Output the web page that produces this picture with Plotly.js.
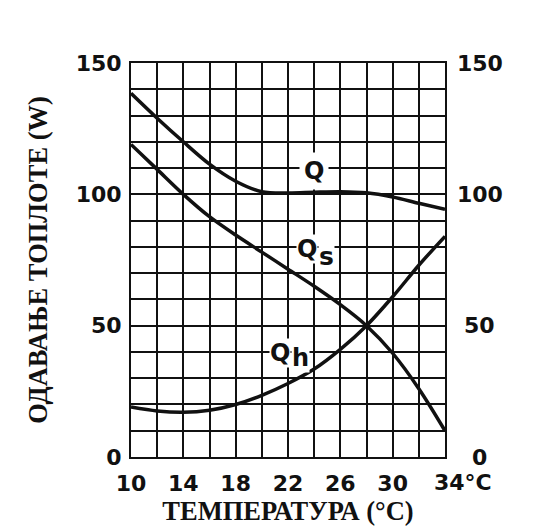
<!DOCTYPE html>
<html>
<head>
<meta charset="utf-8">
<script src="https://cdn.plot.ly/plotly-3.0.1.min.js"></script>
<style>html,body{margin:0;padding:0;background:#fff;}#chart{width:537px;height:528px;}</style>
</head>
<body>
<div id="chart"></div>
<script>
// Data
const temps = [10, 12, 14, 16, 18, 20, 22, 24, 26, 28, 30, 32, 34];
const qTotal = [138.5, 129, 120, 111.5, 105, 101, 100.5, 100.8, 101, 100.6, 99, 96.6, 94.3];
const qSensible = [119, 109.5, 100, 91.5, 84.5, 78, 71.5, 65, 58, 50, 39.5, 26, 10];
const qLatent = [19, 17.5, 17, 17.8, 20, 23.5, 28, 33.5, 41, 50, 61, 73, 84];

const xTickVals = [10, 14, 18, 22, 26, 30, 34];
const xTickLabels = ['10', '14', '18', '22', '26', '30', '34°C'];
const yTickVals = [0, 50, 100, 150];
const yTickLabels = ['0', '50', '100', '150'];

const xTitle = 'ТЕМПЕРАТУРА (°C)';
const yTitle = 'ОДАВАЊЕ ТОПЛОТЕ (W)';

const ink = '#111';
const tickFont = {family: 'DejaVu Sans', size: 22, color: ink, weight: 'bold'};
const titleFont = {family: 'Liberation Serif', size: 26.5, color: ink, weight: 'bold'};
const labelFont = {family: 'DejaVu Sans', size: 24, color: ink, weight: 'bold'};

const lineStyle = {color: ink, width: 3.5, shape: 'spline', smoothing: 0.9};
const traces = [
  {x: temps, y: qTotal, name: 'Q', mode: 'lines', line: lineStyle, hoverinfo: 'x+y+name'},
  {x: temps, y: qSensible, name: 'Qs', mode: 'lines', line: lineStyle, hoverinfo: 'x+y+name'},
  {x: temps, y: qLatent, name: 'Qh', mode: 'lines', line: lineStyle, hoverinfo: 'x+y+name'}
];

const annotations = [];
// right-hand axis labels (same scale as the left axis)
yTickVals.forEach((v, i) => {
  annotations.push({xref: 'paper', yref: 'y', x: 1.111, y: v, text: yTickLabels[i],
    showarrow: false, xanchor: 'center', yanchor: 'middle', font: tickFont});
});
// last x label with unit
annotations.push({xref: 'x', yref: 'paper', x: xTickVals[6], y: 0, yshift: -25,
  text: xTickLabels[6], showarrow: false, xanchor: 'left', xshift: -13, yanchor: 'middle', font: tickFont});
// curve labels
const bg = '#ffffff';
annotations.push({x: 24.0, y: 109, text: 'Q', showarrow: false, font: labelFont, bgcolor: bg, borderpad: 4});
annotations.push({x: 24.3, y: 79.2, text: 'Q', showarrow: false, xanchor: 'right', font: labelFont, bgcolor: bg, borderpad: 0});
annotations.push({x: 24.3, y: 79.2, text: 's', showarrow: false, xanchor: 'left', yshift: -8,
  font: {family: 'DejaVu Sans', size: 25, color: ink, weight: 'bold'}, bgcolor: bg, borderpad: 0});
annotations.push({x: 22.23, y: 39.7, text: 'Q', showarrow: false, xanchor: 'right', font: labelFont, bgcolor: bg, borderpad: 0});
annotations.push({x: 22.23, y: 39.7, text: 'h', showarrow: false, xanchor: 'left', yshift: -5, font: labelFont, bgcolor: bg, borderpad: 0});

const layout = {
  width: 537, height: 528,
  margin: {l: 131, r: 92, t: 63, b: 71},
  paper_bgcolor: '#fff', plot_bgcolor: '#fff',
  showlegend: false,
  xaxis: {
    range: [10, 34], tickmode: 'array', tickvals: xTickVals.slice(0, 6), ticktext: xTickLabels.slice(0, 6),
    showgrid: true, gridcolor: ink, gridwidth: 2,
    minor: {tickmode: 'linear', tick0: 10, dtick: 2, showgrid: true, gridcolor: ink, gridwidth: 2, ticks: ''},
    showline: true, mirror: true, linecolor: ink, linewidth: 2,
    ticks: '', ticklabelstandoff: 6, tickfont: tickFont, zeroline: false,
    title: {text: xTitle, font: titleFont, standoff: 6}
  },
  yaxis: {
    range: [0, 150], tickmode: 'array', tickvals: yTickVals, ticktext: yTickLabels,
    showgrid: true, gridcolor: ink, gridwidth: 2,
    minor: {tickmode: 'linear', tick0: 0, dtick: 10, showgrid: true, gridcolor: ink, gridwidth: 2, ticks: ''},
    showline: true, mirror: true, linecolor: ink, linewidth: 2,
    ticks: '', ticklabelstandoff: 3, tickfont: tickFont, zeroline: false,
    title: {text: yTitle, font: titleFont, standoff: 20}
  },
  annotations: annotations
};

Plotly.newPlot('chart', traces, layout, {displayModeBar: false, staticPlot: true});
</script>
</body>
</html>
